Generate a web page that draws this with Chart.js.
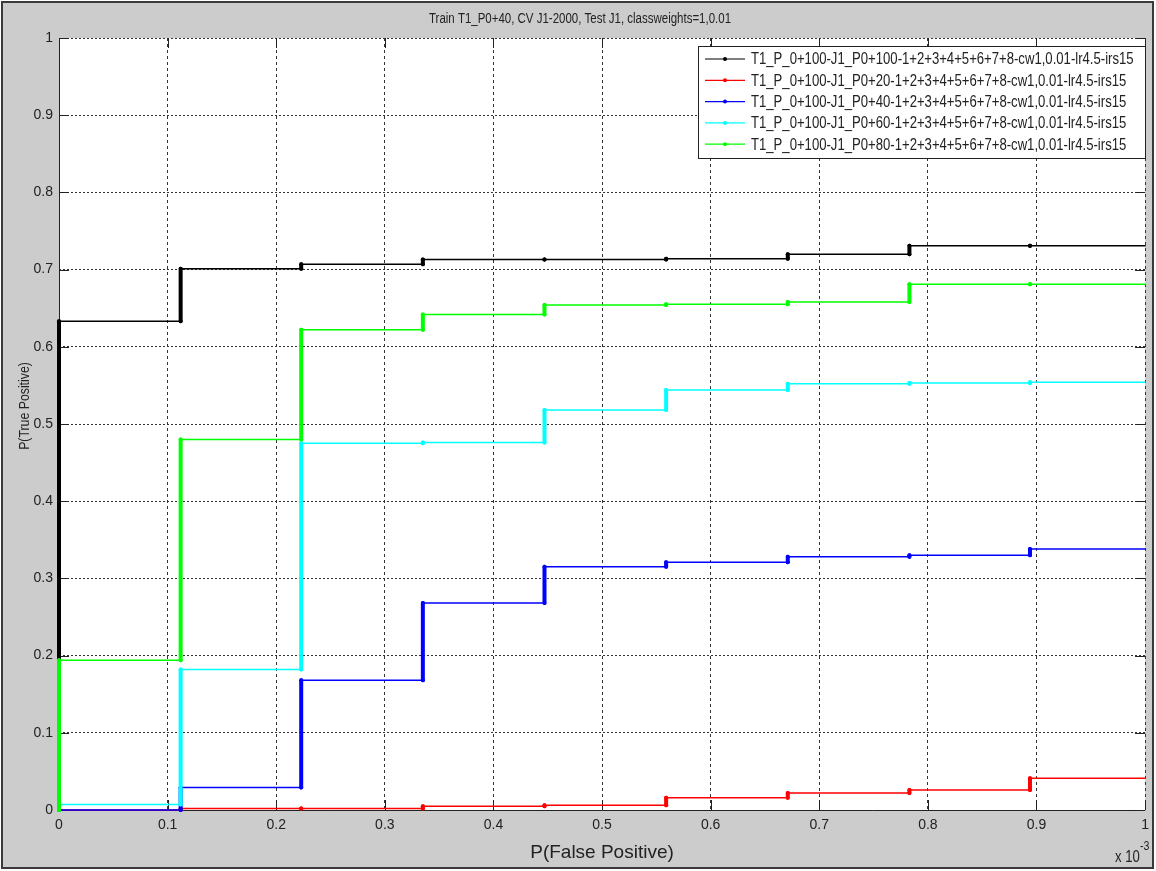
<!DOCTYPE html>
<html>
<head>
<meta charset="utf-8">
<script src="https://cdn.jsdelivr.net/npm/chart.js@4.4.0/dist/chart.umd.min.js"></script>
<style>
  html, body { margin: 0; padding: 0; background: #fff; }
  canvas { display: block; }
</style>
</head>
<body>
<canvas id="roc" width="1156" height="871"></canvas>
<script>
// P(False Positive) (x 1e-3) where the curves step up
const fpSteps = [0, 0.112, 0.223, 0.335, 0.447, 0.559, 0.671, 0.783, 0.894];

// P(True Positive) reached at each step
const tpP100 = [0.633, 0.701, 0.707, 0.713, 0.713, 0.714, 0.720, 0.731, 0.731];
const tpP20  = [0.000, 0.002, 0.002, 0.005, 0.006, 0.016, 0.022, 0.026, 0.041];
const tpP40  = [0.000, 0.029, 0.168, 0.268, 0.315, 0.321, 0.328, 0.330, 0.338];
const tpP60  = [0.007, 0.182, 0.475, 0.476, 0.518, 0.544, 0.552, 0.553, 0.554];
const tpP80  = [0.194, 0.480, 0.622, 0.642, 0.654, 0.655, 0.658, 0.681, 0.681];

const seriesLabels = [
  "T1_P_0+100-J1_P0+100-1+2+3+4+5+6+7+8-cw1,0.01-lr4.5-irs15",
  "T1_P_0+100-J1_P0+20-1+2+3+4+5+6+7+8-cw1,0.01-lr4.5-irs15",
  "T1_P_0+100-J1_P0+40-1+2+3+4+5+6+7+8-cw1,0.01-lr4.5-irs15",
  "T1_P_0+100-J1_P0+60-1+2+3+4+5+6+7+8-cw1,0.01-lr4.5-irs15",
  "T1_P_0+100-J1_P0+80-1+2+3+4+5+6+7+8-cw1,0.01-lr4.5-irs15"
];
const seriesColors = ["#000000", "#ff0000", "#0000ff", "#00ffff", "#00ff00"];
const seriesValues = [tpP100, tpP20, tpP40, tpP60, tpP80];

const titleText = "Train T1_P0+40, CV J1-2000, Test J1, classweights=1,0.01";
const xTitle = "P(False Positive)";
const yTitle = "P(True Positive)";

const FONT = '"Liberation Sans", Arial, sans-serif';
const SQUEEZE = 0.82; // the original uses a condensed face

function staircase(tp) {
  const pts = [{ x: 0, y: 0 }];
  let prev = 0;
  fpSteps.forEach((fp, i) => {
    pts.push({ x: fp, y: prev });
    pts.push({ x: fp, y: tp[i] });
    prev = tp[i];
  });
  pts.push({ x: 1, y: prev });
  return pts;
}

// draw text squeezed horizontally, anchored like textAlign says
function narrowText(ctx, text, x, y, size, align) {
  ctx.save();
  ctx.font = size + "px " + FONT;
  ctx.textAlign = align;
  ctx.translate(x, y);
  ctx.scale(SQUEEZE, 1);
  ctx.fillText(text, 0, 0);
  ctx.restore();
}

const datasets = seriesValues.map((tp, i) => ({
  label: seriesLabels[i],
  data: staircase(tp),
  showLine: true,
  clip: 6,
  borderColor: seriesColors[i],
  backgroundColor: seriesColors[i],
  borderWidth: 1.5,
  borderCapStyle: "round",
  borderJoinStyle: "round",
  pointRadius: ctx => (ctx.raw && ctx.raw.x === 1 ? 0 : 2),
  pointBorderWidth: 0,
  pointBackgroundColor: seriesColors[i],
  order: seriesValues.length - i,
  segment: {
    borderWidth: ctx => (ctx.p0.parsed.x === ctx.p1.parsed.x ? 4 : 1.5)
  }
}));

const fmt = v => String(Number(v.toFixed(1)));

const matlabLook = {
  id: "matlabLook",
  beforeDraw(chart) {
    const { ctx, width, height, chartArea: a } = chart;
    ctx.save();
    ctx.fillStyle = "#ffffff";
    ctx.fillRect(0, 0, width, height);
    ctx.fillStyle = "#cccccc";
    ctx.fillRect(2, 2, width - 5, height - 5);
    ctx.fillStyle = "#ffffff";
    ctx.fillRect(a.left, a.top, a.right - a.left, a.bottom - a.top);
    ctx.restore();
  },
  beforeDatasetsDraw(chart) {
    const { ctx, chartArea: a, scales } = chart;
    ctx.save();
    ctx.strokeStyle = "#222";
    ctx.lineWidth = 1;
    ctx.beginPath();
    ctx.moveTo(a.left + 0.5, a.top);
    ctx.lineTo(a.left + 0.5, a.bottom + 0.5);
    ctx.lineTo(a.right, a.bottom + 0.5);
    // inward tick marks
    scales.x.ticks.forEach(t => {
      const px = Math.round(scales.x.getPixelForValue(t.value)) + 0.5;
      ctx.moveTo(px, a.bottom); ctx.lineTo(px, a.bottom - 10);
      ctx.moveTo(px, a.top); ctx.lineTo(px, a.top + 10);
    });
    scales.y.ticks.forEach(t => {
      const py = Math.round(scales.y.getPixelForValue(t.value)) + 0.5;
      ctx.moveTo(a.left, py); ctx.lineTo(a.left + 10, py);
      ctx.moveTo(a.right, py); ctx.lineTo(a.right - 10, py);
    });
    ctx.stroke();
    ctx.restore();
  },
  afterDraw(chart) {
    const { ctx, width, height } = chart;
    ctx.save();
    ctx.fillStyle = "#222";
    ctx.textBaseline = "middle";

    // title
    narrowText(ctx, titleText, 580, 19, 14, "center");

    // x label
    ctx.font = "19px " + FONT;
    ctx.textAlign = "center";
    ctx.textBaseline = "alphabetic";
    ctx.fillText(xTitle, 602, 858);

    // exponent
    narrowText(ctx, "x 10", 1115, 862, 16, "left");
    narrowText(ctx, "-3", 1140, 850, 13, "left");

    // y label
    ctx.save();
    ctx.translate(25, 406);
    ctx.rotate(-Math.PI / 2);
    ctx.textBaseline = "middle";
    narrowText(ctx, yTitle, 0, 0, 15, "center");
    ctx.restore();

    // legend box
    const bx = 698, by = 46, bw = 447, bh = 112;
    ctx.fillStyle = "#ffffff";
    ctx.fillRect(bx, by, bw, bh);
    ctx.strokeStyle = "#222";
    ctx.lineWidth = 1;
    ctx.strokeRect(bx + 0.5, by + 0.5, bw, bh);
    ctx.textBaseline = "middle";
    seriesLabels.forEach((lab, i) => {
      const y = 59 + i * 21.3;
      ctx.strokeStyle = seriesColors[i];
      ctx.lineWidth = 1.2;
      ctx.beginPath();
      ctx.moveTo(705, y);
      ctx.lineTo(745, y);
      ctx.stroke();
      ctx.fillStyle = seriesColors[i];
      ctx.beginPath();
      ctx.arc(725, y, 2, 0, Math.PI * 2);
      ctx.fill();
      ctx.fillStyle = "#222";
      narrowText(ctx, lab, 751, y + 1, 16, "left");
    });

    // window frame
    ctx.strokeStyle = "#3a3a3a";
    ctx.lineWidth = 2;
    ctx.strokeRect(2, 2, width - 5, height - 5);
    ctx.restore();
  }
};

new Chart(document.getElementById("roc"), {
  type: "scatter",
  data: { datasets },
  options: {
    responsive: false,
    animation: false,
    devicePixelRatio: 1,
    layout: { padding: { left: 0, top: 38, right: 7, bottom: 0 } },
    plugins: {
      legend: { display: false },
      tooltip: { enabled: false },
      title: { display: false }
    },
    scales: {
      x: {
        type: "linear",
        min: 0,
        max: 1,
        afterFit: s => { s.height = 61; },
        ticks: {
          stepSize: 0.1,
          padding: 7,
          color: "#222",
          font: { family: FONT, size: 14 },
          maxRotation: 0,
          callback: fmt
        },
        grid: { color: "#333", lineWidth: 1, drawTicks: false },
        border: { display: false, dash: [3, 3] }
      },
      y: {
        type: "linear",
        min: 0,
        max: 1,
        afterFit: s => { s.width = 59; },
        ticks: {
          stepSize: 0.1,
          padding: 6,
          color: "#222",
          font: { family: FONT, size: 14 },
          callback: fmt
        },
        grid: { color: "#333", lineWidth: 1, drawTicks: false },
        border: { display: false, dash: [2, 2] }
      }
    }
  },
  plugins: [matlabLook]
});
</script>
</body>
</html>
